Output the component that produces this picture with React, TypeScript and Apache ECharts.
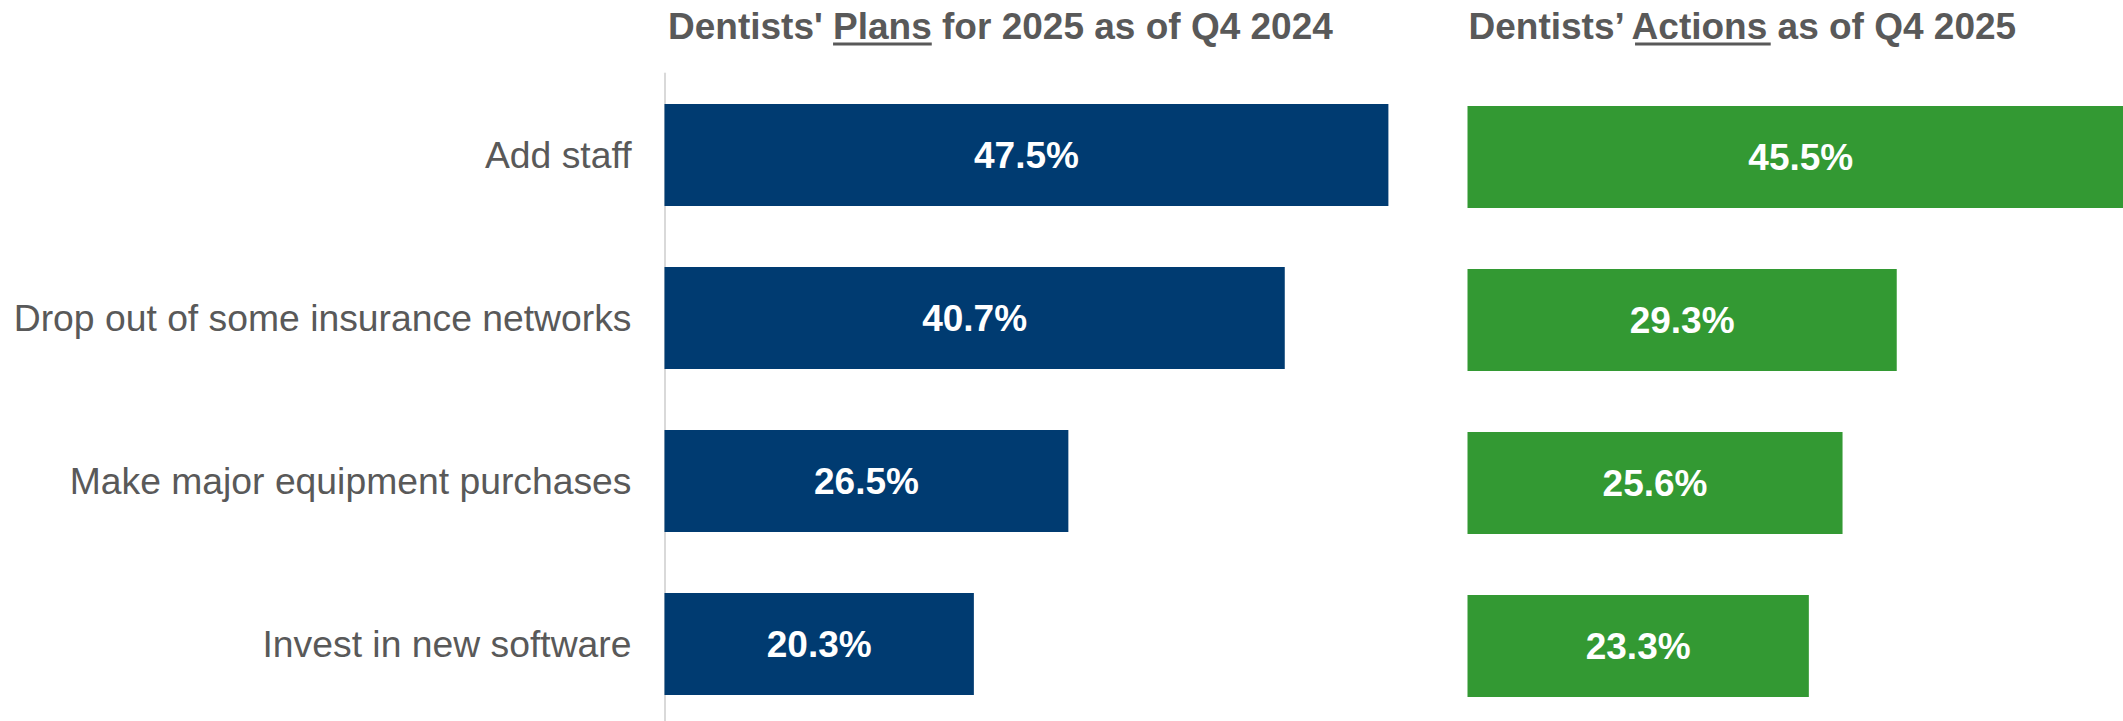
import React, { useEffect, useRef } from "react";
import * as echarts from "echarts";

const categories = [
  "Add staff",
  "Drop out of some insurance networks",
  "Make major equipment purchases",
  "Invest in new software",
];
const plansValues = [47.5, 40.7, 26.5, 20.3];
const actionsValues = [45.5, 29.3, 25.6, 23.3];

const leftTitle = ["Dentists' ", "Plans", " for 2025 as of Q4 2024"];
const rightTitle = ["Dentists\u2019 ", "Actions", " as of Q4 2025"];

const FONT = '"Liberation Sans", Arial, Helvetica, sans-serif';
const GRAY = "#595959";
const NAVY = "#003B71";
const GREEN = "#339933";

function measure(text: string, font: string): number {
  const c = document.createElement("canvas");
  const ctx = c.getContext("2d");
  if (!ctx) return text.length * 18;
  ctx.font = font;
  return ctx.measureText(text).width;
}

export default function App() {
  const ref = useRef<HTMLDivElement>(null);

  useEffect(() => {
    if (!ref.current) return;
    const chart = echarts.init(ref.current, undefined, { renderer: "svg" });
    const titleFont = `bold 37px ${FONT}`;

    const makeTitle = (parts: string[], x: number) => {
      const preW = measure(parts[0], titleFont);
      const undW = measure(parts[1], titleFont);
      return [
        {
          type: "text",
          x,
          y: 26,
          style: {
            text: parts.join(""),
            font: titleFont,
            fill: GRAY,
            align: "left",
            verticalAlign: "middle",
          },
        },
        {
          type: "rect",
          shape: { x: x + preW, y: 42.5, width: undW, height: 3 },
          style: { fill: GRAY },
        },
      ];
    };

    const labelCfg = {
      show: true,
      position: "inside",
      color: "#ffffff",
      fontFamily: FONT,
      fontWeight: "bold",
      fontSize: 37,
      formatter: (p: any) => `${Number(p.value).toFixed(1)}%`,
    };

    chart.setOption({
      animation: false,
      backgroundColor: "#ffffff",
      textStyle: { fontFamily: FONT },
      grid: [
        { left: 664.5, top: 73.5, width: 762, height: 652, containLabel: false },
        { left: 1467.5, top: 75.5, width: 732.5, height: 652, containLabel: false },
      ],
      xAxis: [
        { type: "value", gridIndex: 0, min: 0, max: 50, show: false },
        { type: "value", gridIndex: 1, min: 0, max: 50, show: false },
      ],
      yAxis: [
        {
          type: "category",
          gridIndex: 0,
          data: categories,
          inverse: true,
          axisLine: { show: true, lineStyle: { color: "#d9d9d9", width: 2 } },
          axisTick: { show: false },
          splitLine: { show: false },
          axisLabel: {
            color: GRAY,
            fontSize: 37.3,
            fontFamily: FONT,
            margin: 33,
          },
        },
        {
          type: "category",
          gridIndex: 1,
          data: categories,
          inverse: true,
          axisLine: { show: false },
          axisTick: { show: false },
          splitLine: { show: false },
          axisLabel: { show: false },
        },
      ],
      series: [
        {
          type: "bar",
          xAxisIndex: 0,
          yAxisIndex: 0,
          data: plansValues,
          barWidth: 102,
          itemStyle: { color: NAVY },
          label: labelCfg,
        },
        {
          type: "bar",
          xAxisIndex: 1,
          yAxisIndex: 1,
          data: actionsValues,
          barWidth: 102,
          itemStyle: { color: GREEN },
          label: labelCfg,
        },
      ],
      graphic: [...makeTitle(leftTitle, 668), ...makeTitle(rightTitle, 1468.5)],
    });

    return () => chart.dispose();
  }, []);

  return (
    <div style={{ position: "fixed", left: 0, top: 0, width: 2123, height: 721, overflow: "hidden", background: "#fff" }}>
      <div ref={ref} style={{ width: 2210, height: 740 }} />
    </div>
  );
}
